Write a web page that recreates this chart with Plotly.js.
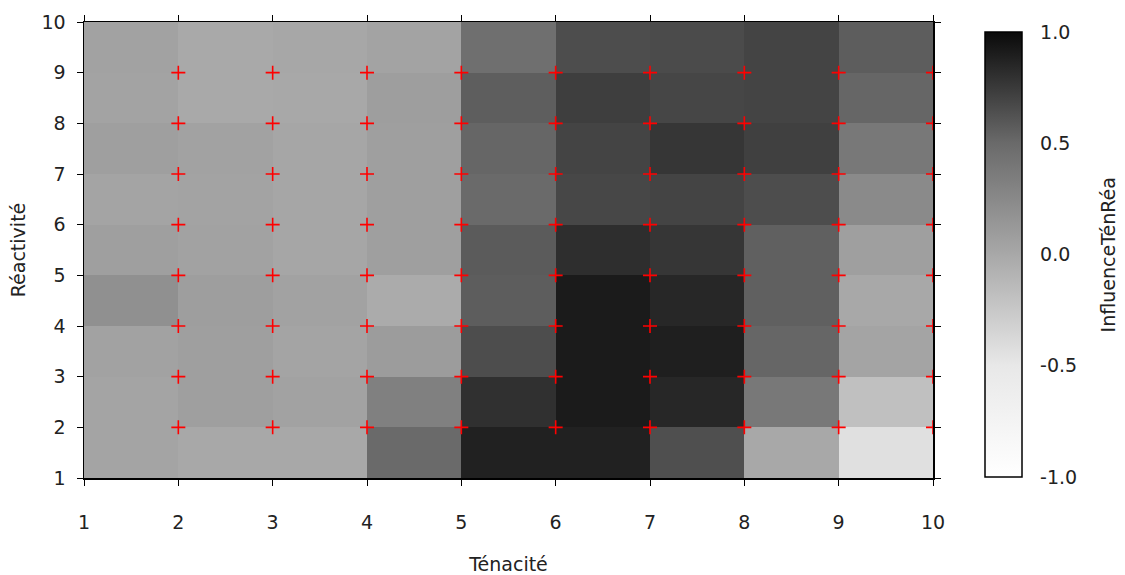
<!DOCTYPE html>
<html>
<head>
<meta charset="utf-8">
<script src="https://cdn.plot.ly/plotly-3.0.1.min.js"></script>
<style>html,body{margin:0;padding:0;background:#fff;}#chart{width:1125px;height:575px;}</style>
</head>
<body>
<div id="chart"></div>
<script>
// Cell edges on both axes
var tenaciteEdges = [1, 2, 3, 4, 5, 6, 7, 8, 9, 10];
var reactiviteEdges = [1, 2, 3, 4, 5, 6, 7, 8, 9, 10];

// InfluenceTénRéa values, one row per Réactivité band (bottom to top), one column per Ténacité band
var row1 = [0.03, 0.00, 0.00, 0.50, 0.88, 0.88, 0.64, 0.00, -0.44];
var row2 = [0.03, 0.07, 0.05, 0.32, 0.80, 0.91, 0.85, 0.39, -0.19];
var row3 = [0.05, 0.07, 0.03, 0.10, 0.65, 0.91, 0.89, 0.52, 0.03];
var row4 = [0.19, 0.08, 0.05, -0.02, 0.57, 0.91, 0.85, 0.55, 0.00];
var row5 = [0.07, 0.05, 0.02, 0.07, 0.58, 0.81, 0.77, 0.55, 0.07];
var row6 = [0.03, 0.04, 0.02, 0.07, 0.50, 0.68, 0.70, 0.65, 0.24];
var row7 = [0.07, 0.05, 0.02, 0.07, 0.52, 0.70, 0.77, 0.72, 0.39];
var row8 = [0.04, -0.01, 0.00, 0.08, 0.56, 0.73, 0.69, 0.70, 0.52];
var row9 = [0.05, -0.01, 0.01, 0.04, 0.46, 0.65, 0.66, 0.70, 0.57];

// Sample point coordinates (red crosses)
var pointTenacite = [2, 3, 4, 5, 6, 7, 8, 9, 10];
var pointReactivite = [2, 3, 4, 5, 6, 7, 8, 9];

// Tick labels
var axisTicks = [1, 2, 3, 4, 5, 6, 7, 8, 9, 10];
var colorTicks = [-1.0, -0.5, 0.0, 0.5, 1.0];
var colorTickText = ['-1.0', '-0.5', '0.0', '0.5', '1.0'];

var zRows = [row1, row2, row3, row4, row5, row6, row7, row8, row9];

var px = [], py = [];
pointReactivite.forEach(function (yv) {
  pointTenacite.forEach(function (xv) { px.push(xv); py.push(yv); });
});

var font = {family: 'DejaVu Sans, Verdana, sans-serif', size: 19, color: '#222'};

var heat = {
  type: 'heatmap',
  x: tenaciteEdges,
  y: reactiviteEdges,
  z: zRows,
  zmin: -1, zmax: 1,
  colorscale: [[0, 'rgb(255,255,255)'], [0.25, 'rgb(232,232,232)'], [0.5, 'rgb(168,168,168)'], [0.75, 'rgb(106,106,106)'], [1, 'rgb(10,10,10)']],
  hoverinfo: 'none',
  colorbar: {
    x: 1.0612, xanchor: 'left', xref: 'paper', xpad: 0, ypad: 0,
    y: 0.002, yanchor: 'bottom', len: 0.976, lenmode: 'fraction',
    thickness: 37, thicknessmode: 'pixels',
    outlinecolor: '#000', outlinewidth: 1.5,
    tickvals: colorTicks, ticktext: colorTickText,
    ticks: 'outside', ticklen: 14, tickcolor: 'rgba(0,0,0,0)',
    tickfont: font
  }
};

var pts = {
  type: 'scatter', mode: 'markers',
  x: px, y: py,
  marker: {symbol: 'cross-thin', size: 10, color: '#ff0000', line: {color: '#ff0000', width: 1.6}},
  hoverinfo: 'none', showlegend: false
};

var axisCommon = {
  tickvals: axisTicks,
  ticks: 'outside', ticklen: 6, tickcolor: '#000', tickwidth: 1,
  showline: true, linecolor: '#000', linewidth: 1.5, mirror: 'ticks',
  showgrid: false, zeroline: false,
  tickfont: font
};

var layout = {
  width: 1125, height: 575,
  margin: {l: 84, r: 192, t: 22, b: 97},
  paper_bgcolor: '#fff', plot_bgcolor: '#fff',
  font: font,
  showlegend: false,
  xaxis: Object.assign({}, axisCommon, {
    range: [1, 10], ticklabelstandoff: 21,
    title: {text: 'Ténacité', font: font, standoff: 25}
  }),
  yaxis: Object.assign({}, axisCommon, {
    range: [1, 10], ticklabelstandoff: 7,
    title: {text: 'Réactivité', font: font, standoff: 11}
  }),
  annotations: [{
    text: 'InfluenceTénRéa', textangle: -90, showarrow: false,
    xref: 'paper', yref: 'paper', x: 1.206, y: 0.49,
    xanchor: 'center', yanchor: 'middle', font: font
  }]
};

Plotly.newPlot('chart', [heat, pts], layout, {displayModeBar: false, staticPlot: true});
</script>
</body>
</html>
